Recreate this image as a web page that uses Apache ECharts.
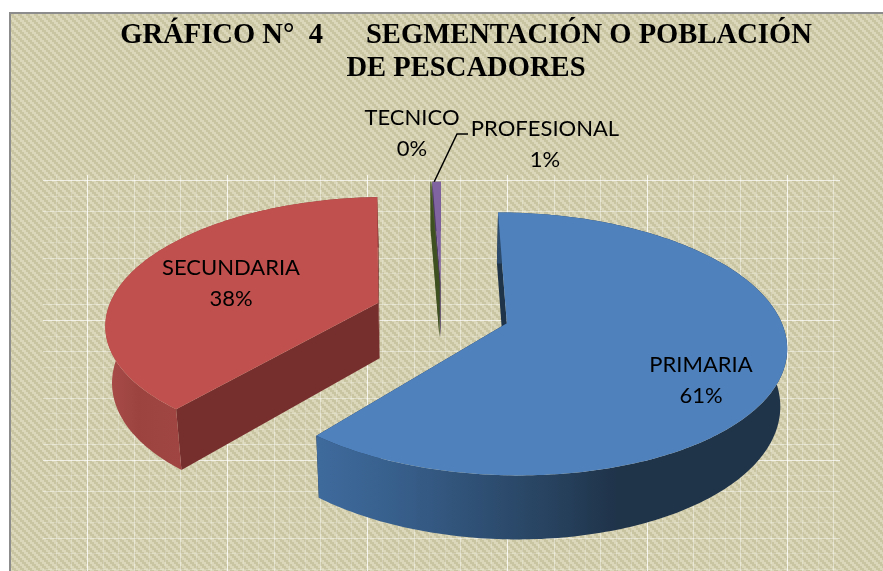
<!DOCTYPE html>
<html>
<head>
<meta charset="utf-8">
<style>html,body{margin:0;padding:0;background:#fff}#c{width:883px;height:571px}</style>
<script src="https://cdn.jsdelivr.net/npm/echarts@6/dist/echarts.min.js"></script>
</head>
<body>
<div id="c"></div>
<script>
// ---- data ----
const categories = ['PRIMARIA', 'SECUNDARIA', 'TECNICO', 'PROFESIONAL'];
const shares = [61, 38.35, 0.05, 0.6];
const titleLines = ['GRÁFICO N°  4      SEGMENTACIÓN O POBLACIÓN', 'DE PESCADORES'];

// ---- 3D projection layout ----
const VX = 442, VY = 312.6, RADIUS = 271.5, DIST = 1756, TILT = 0.46, EXPLODE = 68, DEPTH = 56, BOTTOM_SCALE = 0.98;
const labelCentres = [[701, 380], [231, 283], [412, 133], [545, 144]];
const faceColors = ['#4f81bd', '#c0504d', '#556b2f', '#8064a2'];
const radialColors = ['#1f3449', '#772f2e', '#3f5020', '#4d3b63'];
const wallZ = [1, 1, 2, 1];
const arcStops = [
  [[0, '#3e6a9c'], [0.16, '#38608d'], [0.5, '#27425f'], [0.64, '#1f3349'], [1, '#1f3349']],
  [[0, '#aa4d49'], [0.12, '#9c4340'], [0.28, '#a04542'], [1, '#772f2e']],
  [[0, '#3f5020'], [1, '#3f5020']],
  [[0, '#4d3b63'], [1, '#4d3b63']]
];

const total = shares.reduce((a, b) => a + b, 0);
const starts = [];
shares.reduce((acc, v, i) => { starts[i] = acc; return acc + v; }, 0);

function project(X, Y, bottom) {
  const s = 1 / (1 - Y / DIST);
  const f = bottom ? BOTTOM_SCALE : 1;
  return [VX + X * s * f, VY + Y * TILT * s * f + (bottom ? DEPTH * s : 0)];
}
function sliceEdge(idx, value) {
  const a0 = starts[idx] / total * 2 * Math.PI;
  const a1 = a0 + value / total * 2 * Math.PI;
  const mid = (a0 + a1) / 2;
  const ox = EXPLODE * Math.sin(mid), oy = -EXPLODE * Math.cos(mid);
  const steps = Math.max(2, Math.ceil((a1 - a0) / (Math.PI / 180)));
  const arc = [];
  for (let i = 0; i <= steps; i++) {
    const t = a0 + (a1 - a0) * i / steps;
    arc.push([ox + RADIUS * Math.sin(t), oy - RADIUS * Math.cos(t)]);
  }
  return { ox, oy, arc };
}
function renderSlice(params, api) {
  const idx = params.dataIndex;
  const value = api.value(0);
  const { ox, oy, arc } = sliceEdge(idx, value);
  const top = arc.map(p => project(p[0], p[1], false));
  const bot = arc.map(p => project(p[0], p[1], true));
  const apexT = project(ox, oy, false), apexB = project(ox, oy, true);
  const n = top.length - 1;
  const children = [
    { type: 'polygon', z2: wallZ[idx], silent: true,
      shape: { points: [apexT, top[0], bot[0], apexB] }, style: { fill: radialColors[idx] } },
    { type: 'polygon', z2: wallZ[idx], silent: true,
      shape: { points: [apexT, top[n], bot[n], apexB] }, style: { fill: radialColors[idx] } },
    { type: 'polygon', z2: wallZ[idx], silent: true,
      shape: { points: top.concat(bot.slice().reverse()) },
      style: { fill: new echarts.graphic.LinearGradient(0, 0, 1, 0,
        arcStops[idx].map(s => ({ offset: s[0], color: s[1] }))) } },
    { type: 'polygon', z2: 3, silent: true,
      shape: { points: [apexT].concat(top) }, style: { fill: faceColors[idx] } },
    { type: 'text', z2: 5, silent: true,
      style: { x: labelCentres[idx][0], y: labelCentres[idx][1],
        text: categories[idx] + '\n' + Math.round(value) + '%',
        align: 'center', verticalAlign: 'middle', fill: '#000',
        font: '22px Lato', lineHeight: 31 } }
  ];
  if (idx === 3) {
    const a = project(arc[Math.floor(n / 2)][0], arc[Math.floor(n / 2)][1], false);
    children.push({ type: 'polyline', z2: 4, silent: true,
      shape: { points: [[a[0] - 1, a[1]], [457, 134], [468, 134]] },
      style: { stroke: '#000', lineWidth: 1.5, fill: null } });
  }
  return { type: 'group', children };
}

// ---- background texture ----
function makeTexture() {
  const c = document.createElement('canvas');
  c.width = 8; c.height = 8;
  const g = c.getContext('2d');
  for (let j = 0; j < 4; j++) for (let i = 0; i < 4; i++) {
    g.fillStyle = ((i - j + 8) % 4) < 2 ? '#dbd7ba' : '#c9c4a2';
    g.fillRect(i * 2, j * 2, 2, 2);
  }
  return c;
}
const graphics = [
  { type: 'rect', z: -10, silent: true, shape: { x: 9, y: 12, width: 874, height: 559 }, style: { fill: '#8c8c8c' } },
  { type: 'rect', z: -9, silent: true, shape: { x: 11, y: 14, width: 872, height: 557 },
    style: { fill: { image: makeTexture(), repeat: 'repeat' } } }
];
const STEP = 15.55;
for (let i = -2; i <= 48; i++) {
  const x = Math.round(87 + i * STEP) + 0.5;
  if (x < 43 || x > 840) continue;
  graphics.push({ type: 'line', z: -8, silent: true, shape: { x1: x, y1: 175, x2: x, y2: 571 },
    style: { stroke: '#fff', lineWidth: 1, opacity: i % 9 === 0 ? 0.8 : (i % 3 === 0 ? 0.4 : 0.2) } });
}
for (let j = 0; j <= 25; j++) {
  const y = Math.round(180 + j * STEP) + 0.5;
  graphics.push({ type: 'line', z: -8, silent: true, shape: { x1: 43, y1: y, x2: 840, y2: y },
    style: { stroke: '#fff', lineWidth: 1, opacity: j % 9 === 0 ? 0.7 : (j % 3 === 2 ? 0.4 : 0.2) } });
}

const chart = echarts.init(document.getElementById('c'), null, { renderer: 'canvas' });
chart.setOption({
  animation: false,
  backgroundColor: '#ffffff',
  title: {
    text: titleLines.join('\n'),
    left: 461, top: 14, textAlign: 'center',
    textStyle: { fontFamily: 'Liberation Serif', fontWeight: 'bold', fontSize: 28.6, lineHeight: 33, color: '#000' }
  },
  graphic: graphics,
  series: [{
    type: 'custom',
    coordinateSystem: 'none',
    renderItem: renderSlice,
    data: shares.map((v, i) => ({ name: categories[i], value: [v] }))
  }]
});
</script>
</body>
</html>
